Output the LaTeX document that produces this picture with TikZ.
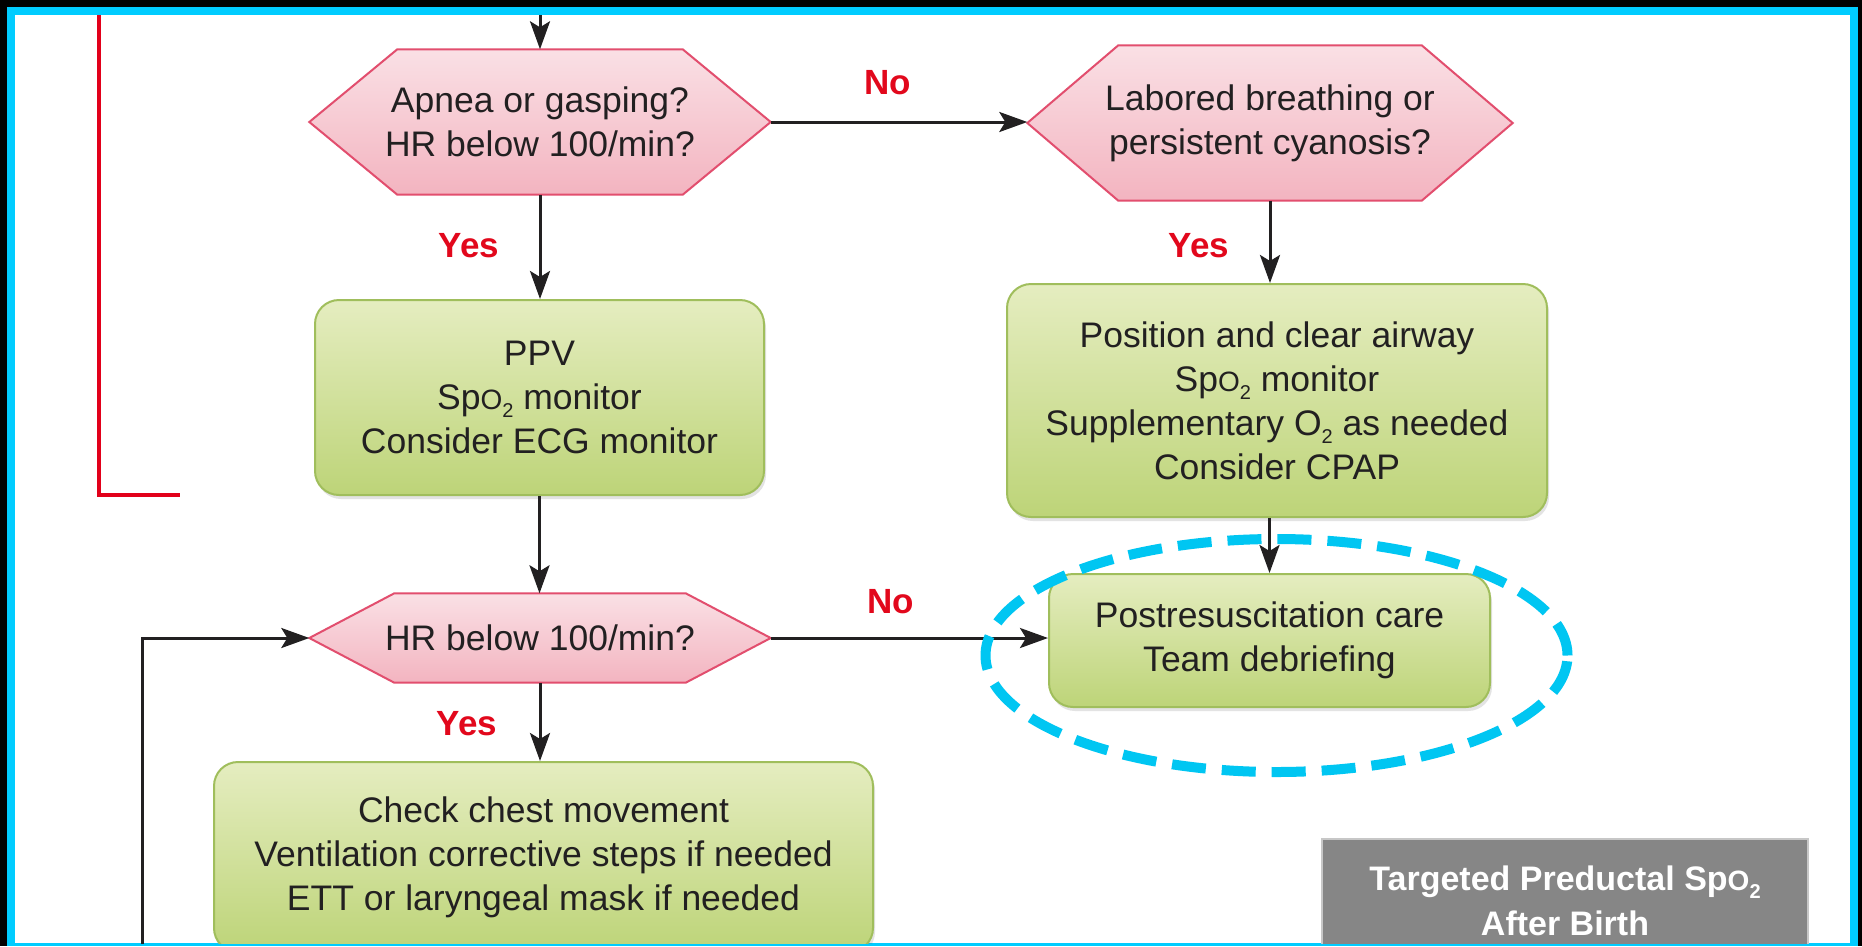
\documentclass[tikz,border=0pt]{standalone}
\usepackage{fontspec}
\setmainfont{Liberation Sans}
\usetikzlibrary{arrows.meta,shapes.geometric,shadows}
\pgfdeclarelayer{frame}
\pgfdeclarelayer{shapes}
\pgfsetlayers{frame,shapes,main}

\definecolor{ink}{RGB}{34,32,33}
\definecolor{hexTop}{RGB}{250,224,229}
\definecolor{hexBot}{RGB}{243,180,192}
\definecolor{hexEdge}{RGB}{226,78,110}
\definecolor{boxTop}{RGB}{229,237,192}
\definecolor{boxBot}{RGB}{189,212,120}
\definecolor{boxEdge}{RGB}{160,190,92}
\definecolor{answer}{RGB}{226,8,28}
\definecolor{frameCyan}{RGB}{0,204,255}
\definecolor{ringCyan}{RGB}{0,198,242}
\definecolor{panelGray}{RGB}{134,134,134}
\definecolor{loopRed}{RGB}{226,0,26}

% small lowered subscript two
\newcommand{\subtwo}{\raisebox{-8pt}{\fontsize{20}{20}\selectfont 2}}
% SpO2 with a reduced capital O
\newcommand{\spotwo}{Sp{\fontsize{28}{28}\selectfont O}\subtwo}

% hexagonal outline behind a decision node (node name, inset of the points)
\newcommand{\hexoutline}[2]{%
  \begin{pgfonlayer}{shapes}
    \draw[hexfill] (#1.west) -- ([xshift=#2]#1.north west)
      -- ([xshift=-#2]#1.north east) -- (#1.east)
      -- ([xshift=-#2]#1.south east) -- ([xshift=#2]#1.south west) -- cycle;
  \end{pgfonlayer}}

\tikzset{
  hexfill/.style={draw=hexEdge, line width=2pt, top color=hexTop, bottom color=hexBot},
  hexnode/.style={rectangle, inner sep=0pt, align=center, text=ink,
    font={\fontsize{35.5}{44}\selectfont}},
  actbox/.style={rectangle, rounded corners=24pt, draw=boxEdge, line width=2pt,
    top color=boxTop, bottom color=boxBot, inner sep=0pt, align=center, text=ink,
    font={\fontsize{35.5}{44}\selectfont},
    drop shadow={shadow xshift=2pt, shadow yshift=-4pt, opacity=0.18, fill=black!60}},
  panel/.style={rectangle, fill=panelGray, draw=black!22, line width=2pt,
    inner sep=0pt, align=center, text=white,
    font={\fontsize{34}{45}\selectfont\bfseries}},
  answerlabel/.style={text=answer, inner sep=0pt,
    font={\fontsize{35}{38}\selectfont\bfseries}},
  arr/.style={draw=ink, line width=3pt, -{Stealth[length=28pt,width=20pt,inset=6pt]}},
  ring/.style={ellipse, draw=ringCyan, line width=10pt, dash pattern=on 34pt off 16pt,
    minimum width=582pt, minimum height=233pt, inner sep=0pt},
}

\begin{document}
\begin{tikzpicture}[x=1pt, y=-1pt]
\useasboundingbox (0,0) rectangle (1862,946);

% border
\begin{pgfonlayer}{frame}
  \fill[black] (0,0) rectangle (1862,946);
  \fill[frameCyan] (7,7) rectangle (1858,946);
  \fill[white] (15,15) rectangle (1850,943);
\end{pgfonlayer}

\begin{scope}
\clip (15,15) rectangle (1850,943);

% decisions
\node[hexnode, minimum width=461pt, minimum height=145pt] (h1) at (540,122)
  {Apnea or gasping?\\HR below 100/min?};
\hexoutline{h1}{88pt}
\node[hexnode, minimum width=485pt, minimum height=155pt] (h2) at (1270,123)
  {Labored breathing or\\persistent cyanosis?};
\hexoutline{h2}{91pt}
\node[hexnode, minimum width=461pt, minimum height=89pt] (h3) at (540,638)
  {HR below 100/min?};
\hexoutline{h3}{85pt}

% actions
\node[actbox, minimum width=449pt, minimum height=195pt] (ppv) at (539.5,397.5)
  {PPV\\\spotwo{} monitor\\Consider ECG monitor};
\node[actbox, minimum width=540pt, minimum height=233pt] (pos) at (1277,400.5)
  {Position and clear airway\\\spotwo{} monitor\\Supplementary O\subtwo{} as needed\\Consider CPAP};
\node[actbox, minimum width=441pt, minimum height=133pt] (post) at (1269.5,640.5)
  {Postresuscitation care\\Team debriefing};
\node[actbox, minimum width=659pt, minimum height=190pt] (chk) at (543.5,857)
  {Check chest movement\\Ventilation corrective steps if needed\\ETT or laryngeal mask if needed};

% target table heading
\node[panel, minimum width=486pt, minimum height=124pt] (spo) at (1565,901)
  {Targeted Preductal \spotwo\\After Birth};

% answer labels
\node[answerlabel] (no1) at (888,83) {No};
\node[answerlabel] (yes1) at (469,246) {Yes};
\node[answerlabel] (yes2) at (1199,246) {Yes};
\node[answerlabel] (no2) at (891,602) {No};
\node[answerlabel] (yes3) at (467,724) {Yes};

% red return line
\coordinate (redtop) at (99,10);
\coordinate (redfoot) at (180,495);
\draw[loopRed, line width=4pt] (redtop) |- (redfoot);

% connectors
\coordinate (entry) at (540,10);
\coordinate (loopfoot) at (142.5,950);
\draw[arr] (entry) -- (h1.north);
\draw[arr] (h1.east) -- (h1.east -| h2.west);
\draw[arr] (h1.south) -- (h1.south |- ppv.north);
\draw[arr] (h2.south) -- (h2.south |- pos.north);
\draw[arr] (ppv.south) -- (ppv.south |- h3.north);
\draw[arr] (post.north |- pos.south) -- (post.north);
\draw[arr] (h3.east) -- (h3.east -| post.west);
\draw[arr] (h3.south) -- (h3.south |- chk.north);
\draw[arr] (loopfoot) |- (h3.west);

% highlight ring
\node[ring] (ring) at (1276.5,655.5) {};
\end{scope}
\end{tikzpicture}
\end{document}
